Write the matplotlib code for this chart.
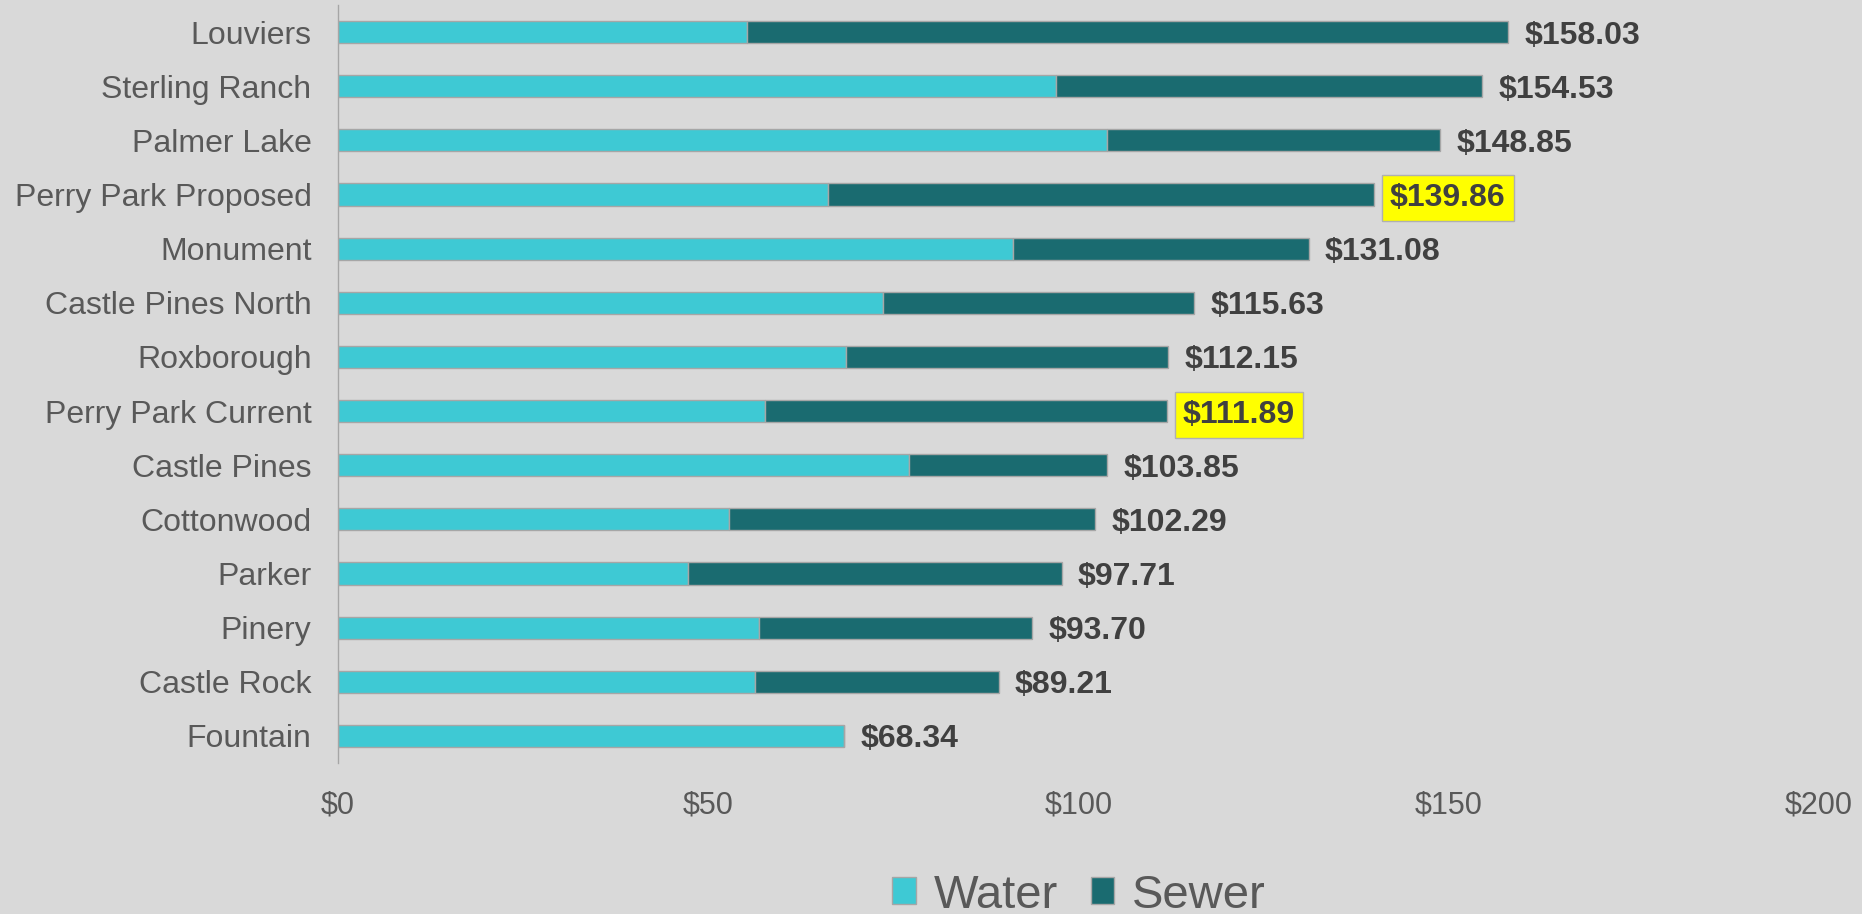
import numpy as np
import matplotlib
matplotlib.use("Agg")
import matplotlib.pyplot as plt
from matplotlib.patches import Patch

plt.rcParams['font.family'] = ['Liberation Sans', 'DejaVu Sans']

places = ["Louviers", "Sterling Ranch", "Palmer Lake", "Perry Park Proposed",
          "Monument", "Castle Pines North", "Roxborough", "Perry Park Current",
          "Castle Pines", "Cottonwood", "Parker", "Pinery", "Castle Rock", "Fountain"]
water = [55.3, 97.0, 103.9, 66.2, 91.1, 73.6, 68.6, 57.7, 77.1, 52.8, 47.3, 56.9, 56.3, 68.34]
sewer = [102.73, 57.53, 44.95, 73.66, 39.98, 42.03, 43.55, 54.19, 26.75, 49.49, 50.41, 36.80, 32.91, 0.0]
totals = [158.03, 154.53, 148.85, 139.86, 131.08, 115.63, 112.15, 111.89,
          103.85, 102.29, 97.71, 93.70, 89.21, 68.34]
highlight = ["Perry Park Proposed", "Perry Park Current"]
xticks = [0, 50, 100, 150, 200]

bg = "#d9d9d9"
c_water = "#3ec9d4"
c_sewer = "#1a6b70"
grey_txt = "#595959"
dark_txt = "#404040"

fig = plt.figure(figsize=(18.62, 9.14), dpi=100, facecolor=bg)
ax = fig.add_axes([0.1815, 0.1652, 0.7954, 0.8293], facecolor=bg)

y = np.arange(len(places))
ax.barh(y, water, height=0.41, color=c_water, edgecolor="#a6a6a6", linewidth=1, label="Water")
ax.barh(y, sewer, left=water, height=0.41, color=c_sewer, edgecolor="#a6a6a6", linewidth=1, label="Sewer")

for i, (name, tot) in enumerate(zip(places, totals)):
    box = None
    if name in highlight:
        box = dict(boxstyle="square,pad=0.25", facecolor="#ffff00", edgecolor="#b0b0b0", linewidth=1)
    ax.text(tot + 2.2, i, f"${tot:.2f}", va="center_baseline", ha="left", fontsize=23,
            fontweight="bold", color=dark_txt, bbox=box)

ax.set_ylim(len(places) - 0.5, -0.5)
ax.set_xlim(0, 200)
ax.set_yticks(y)
ax.set_yticklabels(places, fontsize=23, color=grey_txt)
ax.set_xticks(xticks)
ax.set_xticklabels([f"${v}" for v in xticks], fontsize=22, color=grey_txt)
ax.tick_params(axis="y", length=0, pad=19)
ax.tick_params(axis="x", length=0, pad=20)
for s in ["top", "right", "bottom"]:
    ax.spines[s].set_visible(False)
ax.spines["left"].set_color("#a6a6a6")
ax.spines["left"].set_linewidth(1)

handles = [Patch(facecolor=c_water, edgecolor="#a6a6a6", label="Water"),
           Patch(facecolor=c_sewer, edgecolor="#a6a6a6", label="Sewer")]
leg = fig.legend(handles=handles, loc="center", bbox_to_anchor=(0.5795, 0.02),
                 ncol=2, frameon=False, fontsize=34, handlelength=0.5, handleheight=0.5,
                 handletextpad=0.38, columnspacing=0.7, borderpad=0)
for t in leg.get_texts():
    t.set_color(grey_txt)

fig.savefig("out.png", dpi=100, facecolor=bg)
